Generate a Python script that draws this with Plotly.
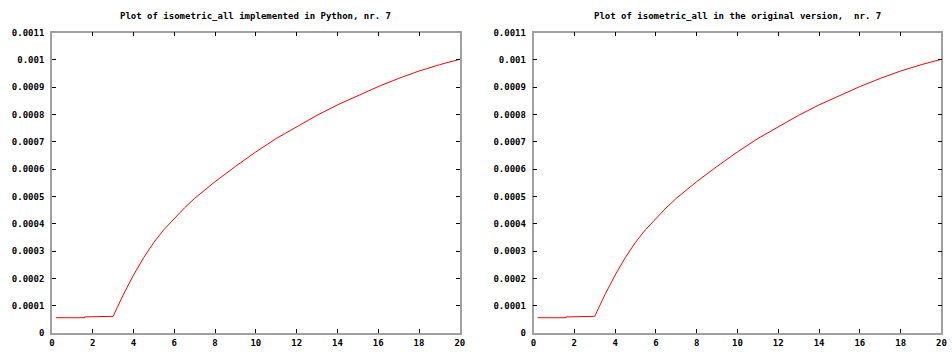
import plotly.graph_objects as go

# ---- data ----
x_python = [0.2, 1.6, 1.6, 3.0, 3.5, 4.0, 4.5, 5.0, 5.5, 6.0, 6.5, 7.0, 7.5, 8.0,
            9.0, 10.0, 11.0, 12.0, 13.0, 14.0, 15.0, 16.0, 17.0, 18.0, 19.0, 20.0]
y_python = [5.6e-5, 5.6e-5, 5.9e-5, 6.1e-5, 1.40e-4, 2.12e-4, 2.76e-4, 3.32e-4, 3.79e-4,
            4.20e-4, 4.58e-4, 4.93e-4, 5.25e-4, 5.54e-4, 6.10e-4, 6.63e-4, 7.12e-4,
            7.56e-4, 7.97e-4, 8.35e-4, 8.70e-4, 9.02e-4, 9.32e-4, 9.59e-4, 9.82e-4, 1.002e-3]

x_original = list(x_python)
y_original = list(y_python)

titles = ["Plot of isometric_all implemented in Python, nr. 7",
          "Plot of isometric_all in the original version,\u00a0 nr. 7"]

x_ticks = [0, 2, 4, 6, 8, 10, 12, 14, 16, 18, 20]
y_ticks = [0, 0.0001, 0.0002, 0.0003, 0.0004, 0.0005, 0.0006, 0.0007,
           0.0008, 0.0009, 0.001, 0.0011]
y_tick_labels = ["0", "0.0001", "0.0002", "0.0003", "0.0004", "0.0005", "0.0006",
                 "0.0007", "0.0008", "0.0009", "0.001", "0.0011"]

# ---- figure ----
W, H = 952, 356
FONT = dict(family="DejaVu Sans Mono", size=9, color="black", weight="bold")

fig = go.Figure()
fig.add_trace(go.Scatter(x=x_python, y=y_python, mode="lines",
                         line=dict(color="#ff0000", width=1),
                         xaxis="x", yaxis="y", showlegend=False))
fig.add_trace(go.Scatter(x=x_original, y=y_original, mode="lines",
                         line=dict(color="#ff0000", width=1),
                         xaxis="x2", yaxis="y2", showlegend=False))

ydom = [1 - 337.5 / H, 1 - 28.3 / H]
dom1 = [49.3 / W, 460.7 / W]
dom2 = [535 / W, 946.4 / W]

def xax(dom, anchor):
    return dict(domain=dom, anchor=anchor, range=[0, 20], tickvals=x_ticks,
                showgrid=False, zeroline=False, showline=True, mirror="ticks",
                linecolor="#a0a0a0", linewidth=1.5, ticks="inside", ticklen=4,
                tickcolor="black", tickwidth=1, tickfont=FONT)

def yax(anchor):
    return dict(domain=ydom, anchor=anchor, range=[0, 0.0011], tickvals=y_ticks,
                ticktext=y_tick_labels, showgrid=False, zeroline=False, showline=True,
                mirror="ticks", linecolor="#a0a0a0", linewidth=1.5, ticks="inside",
                ticklen=4, tickcolor="black", tickwidth=1, tickfont=FONT,
                ticklabelstandoff=4)

fig.update_layout(
    width=W, height=H, margin=dict(l=0, r=0, t=0, b=0),
    paper_bgcolor="white", plot_bgcolor="white",
    xaxis=xax(dom1, "y"), yaxis=yax("x"),
    xaxis2=xax(dom2, "y2"), yaxis2=yax("x2"),
    annotations=[
        dict(text=titles[0], x=(dom1[0] + dom1[1]) / 2, y=1 - 11 / H, xref="paper",
             yref="paper", showarrow=False, font=FONT, xanchor="center", yanchor="middle"),
        dict(text=titles[1], x=(dom2[0] + dom2[1]) / 2, y=1 - 11 / H, xref="paper",
             yref="paper", showarrow=False, font=FONT, xanchor="center", yanchor="middle"),
    ],
)

fig.write_html("out.html")
